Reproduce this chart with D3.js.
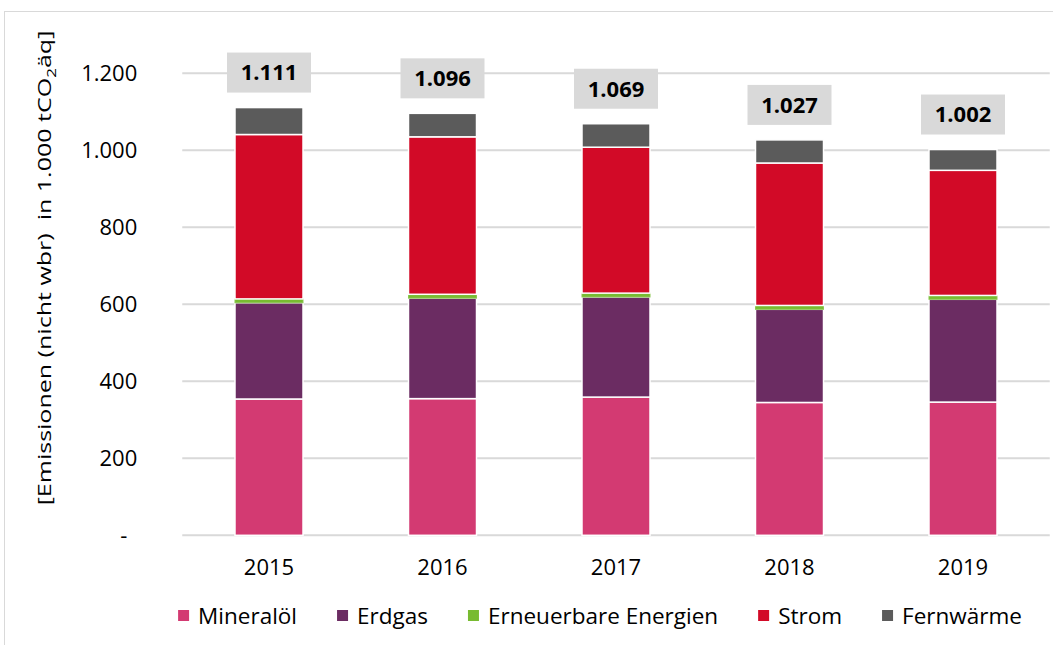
<!DOCTYPE html>
<html>
<head>
<meta charset="utf-8">
<script src="https://cdn.jsdelivr.net/npm/d3@7"></script>
<style>
  body { margin: 0; background: #fff; }
  svg text { font-family: "Open Sans", sans-serif; fill: #000; }
</style>
</head>
<body>
<div id="chart"></div>
<script>
// data (1000 t CO2-eq)
let years = ["2015", "2016", "2017", "2018", "2019"];
let seriesNames = ["Mineralöl", "Erdgas", "Erneuerbare Energien", "Strom", "Fernwärme"];
let seriesColors = ["#d33a72", "#6b2c62", "#78bb31", "#d20a27", "#5b5b5b"];
let mineraloel = [354, 355, 359, 345, 346];
let erdgas = [250, 261, 260, 242, 267];
let erneuerbare = [10, 10, 10, 10, 10];
let strom = [427, 409, 379, 370, 325];
let fernwaerme = [70, 61, 61, 60, 54];
let totals = [1111, 1096, 1069, 1027, 1002];
let yTicks = [0, 200, 400, 600, 800, 1000, 1200];

let svgWidth = 1053;
let svgHeight = 645;

// plot area
let margin = { top: 73.3, right: 3.25, bottom: 109.7, left: 182.25 };
let width = svgWidth - margin.left - margin.right;
let height = svgHeight - margin.top - margin.bottom;

let de = d3.formatLocale({ decimal: ",", thousands: ".", grouping: [3], currency: ["", " €"] });
let fmt = de.format(",");

let svg = d3.select("#chart")
  .append("svg")
  .attr("width", svgWidth)
  .attr("height", svgHeight);

// outer frame
svg.append("rect")
  .attr("x", 4.5)
  .attr("y", 11.5)
  .attr("width", 1200)
  .attr("height", 800)
  .attr("fill", "none")
  .attr("stroke", "#d9d9d9")
  .attr("stroke-width", 1);

let chartGroup = svg.append("g")
  .attr("transform", `translate(${margin.left}, ${margin.top})`);

let table = years.map((y, i) => ({
  year: y,
  "Mineralöl": mineraloel[i],
  "Erdgas": erdgas[i],
  "Erneuerbare Energien": erneuerbare[i],
  "Strom": strom[i],
  "Fernwärme": fernwaerme[i],
  total: totals[i]
}));

let stacked = d3.stack().keys(seriesNames)(table);

let xScale = d3.scaleBand()
  .domain(years)
  .range([0, width])
  .paddingInner(0.608)
  .paddingOuter(0.304);

let yScale = d3.scaleLinear()
  .domain([0, 1200])
  .range([height, 0]);

let color = d3.scaleOrdinal().domain(seriesNames).range(seriesColors);

// gridlines
chartGroup.append("g")
  .selectAll("line")
  .data(yTicks)
  .enter()
  .append("line")
  .attr("x1", 0)
  .attr("x2", width)
  .attr("y1", d => yScale(d))
  .attr("y2", d => yScale(d))
  .attr("stroke", "#d9d9d9")
  .attr("stroke-width", 2);

// y axis labels
let leftAxis = d3.axisLeft(yScale)
  .tickValues(yTicks)
  .tickSize(0)
  .tickPadding(45)
  .tickFormat(d => d === 0 ? "-" : fmt(d));

let yAxis = chartGroup.append("g").call(leftAxis);
yAxis.select(".domain").remove();
yAxis.selectAll("text")
  .attr("font-size", "22px")
  .attr("font-family", "'Open Sans', sans-serif")
  .attr("fill", "#000")
  .attr("dx", d => d === 0 ? -10 : 0);

// x axis labels
let bottomAxis = d3.axisBottom(xScale).tickSize(0).tickPadding(24);
let xAxis = chartGroup.append("g")
  .attr("transform", `translate(0, ${height})`)
  .call(bottomAxis);
xAxis.select(".domain").remove();
xAxis.selectAll("text")
  .attr("font-size", "22px")
  .attr("font-family", "'Open Sans', sans-serif")
  .attr("fill", "#000");

// stacked bars
let layers = chartGroup.selectAll(".layer")
  .data(stacked)
  .enter()
  .append("g")
  .attr("class", "layer")
  .attr("fill", d => color(d.key));

layers.selectAll("rect")
  .data(d => d.map(p => ({ key: d.key, p: p })))
  .enter()
  .append("rect")
  .attr("x", d => xScale(d.p.data.year))
  .attr("width", xScale.bandwidth())
  .attr("y", d => yScale(d.p[1]))
  .attr("height", d => yScale(d.p[0]) - yScale(d.p[1]))
  .attr("stroke", d => d.key === "Erneuerbare Energien" ? "#8cc653" : "#fff")
  .attr("stroke-width", d => d.key === "Erneuerbare Energien" ? 1 : 1.5);

// total labels in grey boxes
let labels = chartGroup.selectAll(".total")
  .data(table)
  .enter()
  .append("g")
  .attr("class", "total")
  .attr("transform", d => `translate(${xScale(d.year) + xScale.bandwidth() / 2}, ${yScale(d.total) - 35})`);

labels.append("rect")
  .attr("x", -42)
  .attr("y", -20)
  .attr("width", 84)
  .attr("height", 40)
  .attr("fill", "#d9d9d9");

labels.append("text")
  .attr("text-anchor", "middle")
  .attr("dy", "0.36em")
  .attr("font-size", "22px")
  .attr("font-weight", "bold")
  .text(d => fmt(d.total));

// y axis title, stretched along its baseline to the length seen in the picture
let title = svg.append("text")
  .attr("text-anchor", "middle")
  .attr("font-size", "19px")
  .style("white-space", "pre");
title.append("tspan").text("[Emissionen (nicht wbr)  in 1.000 tCO");
title.append("tspan").attr("font-size", "13px").attr("dy", 5).text("2");
title.append("tspan").attr("dy", -5).text("äq]");
let titleLen = title.node().getBBox().width;
title.attr("transform", `translate(51, 268) rotate(-90) scale(${475 / titleLen}, 1)`);

// legend
let legend = svg.append("g");
let items = legend.selectAll("g")
  .data(seriesNames)
  .enter()
  .append("g");

items.append("rect")
  .attr("width", 11)
  .attr("height", 11)
  .attr("y", 610)
  .attr("fill", d => color(d));

items.append("text")
  .attr("x", 20)
  .attr("y", 624)
  .attr("font-size", "22.5px")
  .text(d => d);

let gap = 40;
let cursor = 0;
items.each(function() {
  let g = d3.select(this);
  let w = g.select("text").node().getComputedTextLength();
  g.attr("transform", `translate(${cursor}, 0)`);
  cursor += 20 + w + gap;
});
let legendWidth = cursor - gap;
legend.attr("transform", `translate(${600 - legendWidth / 2}, 0)`);
</script>
</body>
</html>
